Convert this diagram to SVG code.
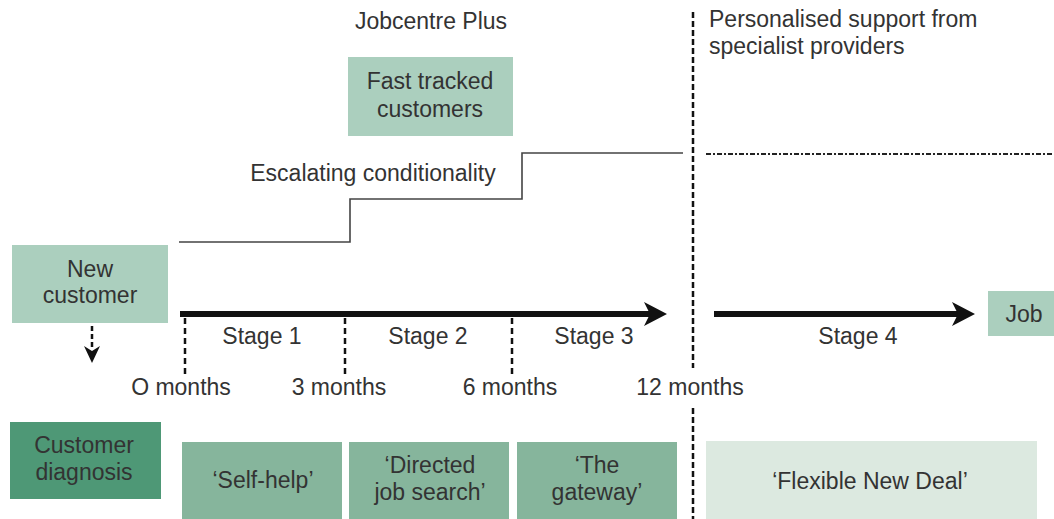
<svg xmlns="http://www.w3.org/2000/svg" width="1054" height="519" viewBox="0 0 1054 519">
<style>
text{font-family:"Liberation Sans",Arial,sans-serif;font-size:23px;fill:#333;}
.c{text-anchor:middle;}
.light{fill:#abcfbe;}
.mid{fill:#86b59c;}
.dark{fill:#4e9876;}
.pale{fill:#dce9e0;}
.tick{stroke:#111;stroke-width:2.5;stroke-dasharray:6 4;fill:none;}
.shaft{stroke:#111;stroke-width:6;fill:none;}
.head{fill:#111;}
</style>
<rect width="1054" height="519" fill="#fff"/>
<g id="labels">
<text class="c" x="431" y="29">Jobcentre Plus</text>
<text x="709" y="27">Personalised support from</text>
<text x="709" y="54">specialist providers</text>
<text class="c" x="373" y="181">Escalating conditionality</text>
<text class="c" x="262" y="344">Stage 1</text>
<text class="c" x="428" y="344">Stage 2</text>
<text class="c" x="594" y="344">Stage 3</text>
<text class="c" x="858" y="344">Stage 4</text>
<text class="c" x="181" y="395">O months</text>
<text class="c" x="339" y="395">3 months</text>
<text class="c" x="510" y="395">6 months</text>
<text class="c" x="690" y="395">12 months</text>
</g>
<g id="node-fast-tracked">
<rect class="light" x="348" y="57" width="165" height="79"/>
<text class="c" x="430" y="89">Fast tracked</text>
<text class="c" x="430" y="117">customers</text>
</g>
<g id="node-new-customer">
<rect class="light" x="12" y="245" width="156" height="78"/>
<text class="c" x="90" y="277">New</text>
<text class="c" x="90" y="303">customer</text>
</g>
<g id="node-job">
<rect class="light" x="988" y="291" width="66" height="45"/>
<text class="c" x="1024" y="322">Job</text>
</g>
<g id="node-customer-diagnosis">
<rect class="dark" x="10" y="422" width="151" height="77"/>
<text class="c" x="84" y="453">Customer</text>
<text class="c" x="84" y="480">diagnosis</text>
</g>
<g id="node-self-help">
<rect class="mid" x="182" y="442" width="160" height="77"/>
<text class="c" x="263" y="488">‘Self-help’</text>
</g>
<g id="node-directed">
<rect class="mid" x="349" y="442" width="160" height="77"/>
<text class="c" x="430" y="473">‘Directed</text>
<text class="c" x="430" y="500">job search’</text>
</g>
<g id="node-gateway">
<rect class="mid" x="517" y="442" width="160" height="77"/>
<text class="c" x="597" y="473">‘The</text>
<text class="c" x="597" y="500">gateway’</text>
</g>
<g id="node-flexible">
<rect class="pale" x="706" y="441" width="331" height="78"/>
<text class="c" x="870" y="489">‘Flexible New Deal’</text>
</g>
<g id="connectors">
<polyline points="179,242 350,242 350,199 522,199 522,153 683,153" fill="none" stroke="#444" stroke-width="1.6"/>
<line x1="706" y1="154" x2="1054" y2="154" stroke="#222" stroke-width="2" stroke-dasharray="5 2 2 2"/>
<line x1="693" y1="12" x2="693" y2="368" stroke="#111" stroke-width="2.5" stroke-dasharray="6 3"/>
<line x1="693" y1="408" x2="693" y2="519" stroke="#111" stroke-width="2.5" stroke-dasharray="6 3"/>
<line class="shaft" x1="180" y1="314" x2="652" y2="314"/>
<polygon class="head" points="667,314 644,302 650,314 644,326"/>
<line class="shaft" x1="714" y1="314" x2="958" y2="314"/>
<polygon class="head" points="975,314 952,302 958,314 952,326"/>
<line class="tick" x1="185" y1="318" x2="185" y2="377"/>
<line class="tick" x1="345" y1="318" x2="345" y2="377"/>
<line class="tick" x1="512" y1="318" x2="512" y2="377"/>
<line x1="92" y1="326" x2="92" y2="350" stroke="#111" stroke-width="2.5" stroke-dasharray="5 3"/>
<polygon class="head" points="84,346 92,351 100,346 92,363"/>
</g>
</svg>
